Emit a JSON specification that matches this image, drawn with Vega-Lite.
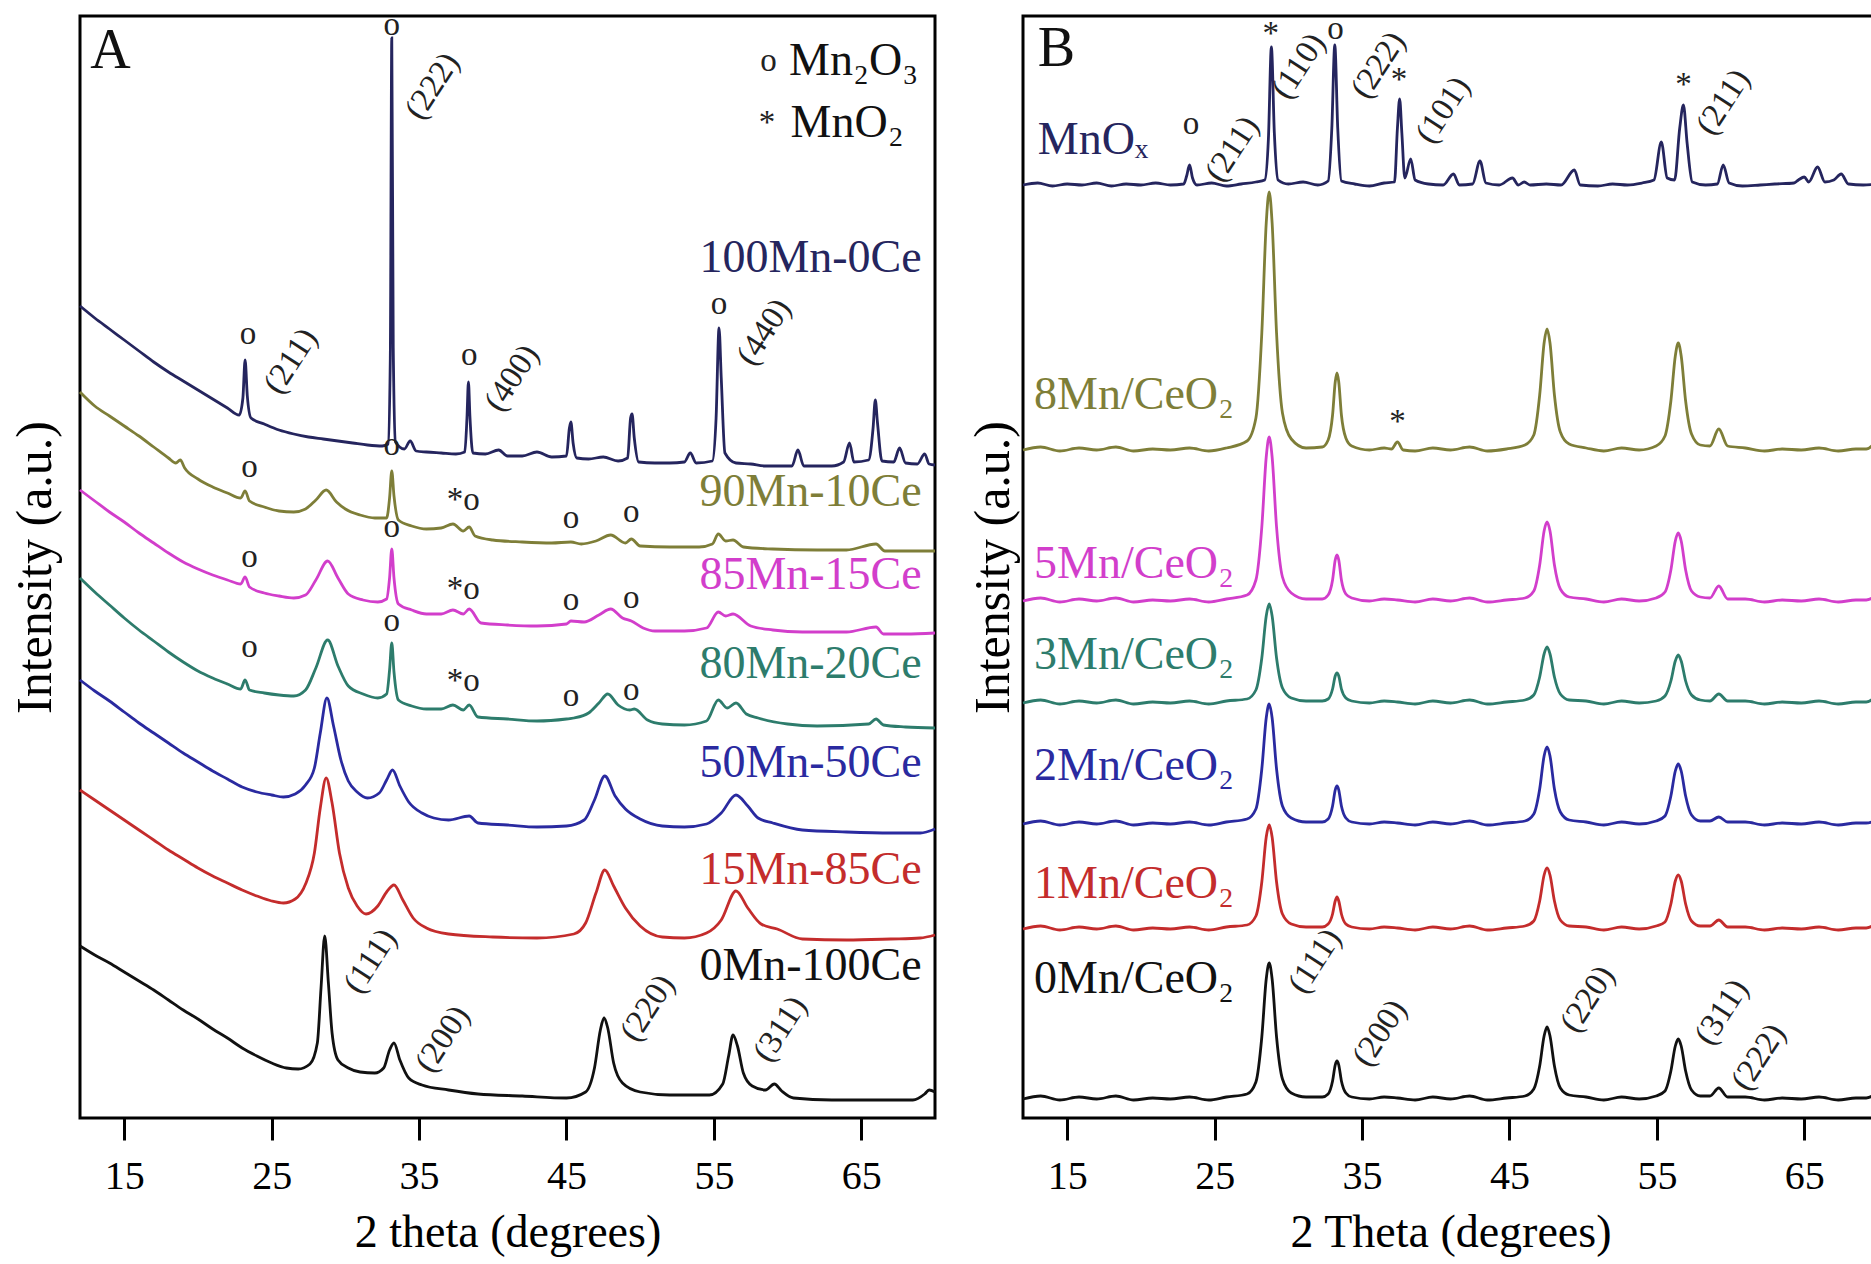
{
"$schema": "https://vega.github.io/schema/vega-lite/v6.json",
"padding": {"left": 8, "top": 7, "right": 0, "bottom": 0},
"spacing": 23,
"config": {"font": "Liberation Serif", "view": {"stroke": "black", "strokeWidth": 3}, "axis": {"labelFont": "Liberation Serif", "titleFont": "Liberation Serif", "labelColor": "black", "titleColor": "black", "titleFontWeight": "normal", "grid": false}},
"datasets": {
"A": [
{"s":"m100","x":12,"y":812},{"s":"m100","x":13,"y":800},{"s":"m100","x":14,"y":789},{"s":"m100","x":15,"y":778},{"s":"m100","x":16,"y":767},{"s":"m100","x":17,"y":756},{"s":"m100","x":18,"y":746},{"s":"m100","x":19,"y":737},{"s":"m100","x":20,"y":728},{"s":"m100","x":21,"y":719},{"s":"m100","x":22,"y":710},{"s":"m100","x":22.8,"y":703},{"s":"m100","x":23.05,"y":720},{"s":"m100","x":23.2,"y":758},{"s":"m100","x":23.35,"y":722},{"s":"m100","x":23.6,"y":700},{"s":"m100","x":24.5,"y":694},{"s":"m100","x":25.5,"y":688},{"s":"m100","x":26.5,"y":684},{"s":"m100","x":27.5,"y":681},{"s":"m100","x":28.5,"y":679},{"s":"m100","x":29.5,"y":677},{"s":"m100","x":30.5,"y":675},{"s":"m100","x":31.5,"y":673},{"s":"m100","x":32.5,"y":672},{"s":"m100","x":32.9,"y":674},{"s":"m100","x":33.05,"y":760},{"s":"m100","x":33.15,"y":1080},{"s":"m100","x":33.25,"y":770},{"s":"m100","x":33.4,"y":676},{"s":"m100","x":34.0,"y":669},{"s":"m100","x":34.4,"y":677},{"s":"m100","x":34.8,"y":667},{"s":"m100","x":35.5,"y":666},{"s":"m100","x":36.5,"y":665},{"s":"m100","x":37.5,"y":664},{"s":"m100","x":38.1,"y":666},{"s":"m100","x":38.25,"y":700},{"s":"m100","x":38.35,"y":736},{"s":"m100","x":38.45,"y":702},{"s":"m100","x":38.65,"y":665},{"s":"m100","x":39.5,"y":664},{"s":"m100","x":40.4,"y":668},{"s":"m100","x":41,"y":662},{"s":"m100","x":42,"y":662},{"s":"m100","x":43,"y":666},{"s":"m100","x":44,"y":661},{"s":"m100","x":45.0,"y":662},{"s":"m100","x":45.2,"y":690},{"s":"m100","x":45.3,"y":696},{"s":"m100","x":45.45,"y":675},{"s":"m100","x":45.7,"y":660},{"s":"m100","x":46.5,"y":659},{"s":"m100","x":47.5,"y":661},{"s":"m100","x":48.5,"y":657},{"s":"m100","x":49.15,"y":660},{"s":"m100","x":49.35,"y":700},{"s":"m100","x":49.45,"y":704},{"s":"m100","x":49.6,"y":680},{"s":"m100","x":49.9,"y":656},{"s":"m100","x":51,"y":655},{"s":"m100","x":52,"y":655},{"s":"m100","x":53,"y":656},{"s":"m100","x":53.4,"y":665},{"s":"m100","x":53.8,"y":655},{"s":"m100","x":54.9,"y":657},{"s":"m100","x":55.15,"y":700},{"s":"m100","x":55.35,"y":790},{"s":"m100","x":55.5,"y":740},{"s":"m100","x":55.75,"y":665},{"s":"m100","x":56.5,"y":655},{"s":"m100","x":57.5,"y":654},{"s":"m100","x":58.5,"y":652},{"s":"m100","x":59.5,"y":652},{"s":"m100","x":60.3,"y":652},{"s":"m100","x":60.7,"y":668},{"s":"m100","x":61.1,"y":652},{"s":"m100","x":62,"y":652},{"s":"m100","x":63,"y":652},{"s":"m100","x":63.8,"y":656},{"s":"m100","x":64.2,"y":675},{"s":"m100","x":64.5,"y":656},{"s":"m100","x":65.5,"y":658},{"s":"m100","x":65.8,"y":690},{"s":"m100","x":65.95,"y":718},{"s":"m100","x":66.1,"y":695},{"s":"m100","x":66.4,"y":657},{"s":"m100","x":67.2,"y":656},{"s":"m100","x":67.6,"y":670},{"s":"m100","x":68.0,"y":655},{"s":"m100","x":68.8,"y":654},{"s":"m100","x":69.3,"y":664},{"s":"m100","x":69.6,"y":654},{"s":"m100","x":70,"y":653},
{"s":"m90","x":12,"y":726},{"s":"m90","x":13,"y":712},{"s":"m90","x":14,"y":702},{"s":"m90","x":15,"y":692},{"s":"m90","x":16,"y":682},{"s":"m90","x":17,"y":671},{"s":"m90","x":18,"y":660},{"s":"m90","x":18.5,"y":655},{"s":"m90","x":18.8,"y":658},{"s":"m90","x":19.1,"y":650},{"s":"m90","x":20,"y":639},{"s":"m90","x":21,"y":631},{"s":"m90","x":22,"y":625},{"s":"m90","x":22.9,"y":620},{"s":"m90","x":23.2,"y":627},{"s":"m90","x":23.5,"y":617},{"s":"m90","x":24.5,"y":611},{"s":"m90","x":25.5,"y":607},{"s":"m90","x":26.5,"y":606},{"s":"m90","x":27.3,"y":609},{"s":"m90","x":28.0,"y":618},{"s":"m90","x":28.7,"y":628},{"s":"m90","x":29.4,"y":616},{"s":"m90","x":30,"y":609},{"s":"m90","x":31,"y":603},{"s":"m90","x":32,"y":600},{"s":"m90","x":32.8,"y":600},{"s":"m90","x":33.0,"y":620},{"s":"m90","x":33.15,"y":647},{"s":"m90","x":33.3,"y":622},{"s":"m90","x":33.6,"y":598},{"s":"m90","x":34.5,"y":592},{"s":"m90","x":35.5,"y":589},{"s":"m90","x":36.5,"y":590},{"s":"m90","x":37.3,"y":594},{"s":"m90","x":38.0,"y":587},{"s":"m90","x":38.4,"y":591},{"s":"m90","x":38.8,"y":582},{"s":"m90","x":40,"y":578},{"s":"m90","x":42,"y":576},{"s":"m90","x":44,"y":575},{"s":"m90","x":45.3,"y":576},{"s":"m90","x":46,"y":574},{"s":"m90","x":47,"y":577},{"s":"m90","x":48.0,"y":583},{"s":"m90","x":49.0,"y":575},{"s":"m90","x":49.4,"y":579},{"s":"m90","x":50,"y":572},{"s":"m90","x":52,"y":571},{"s":"m90","x":54,"y":571},{"s":"m90","x":54.9,"y":574},{"s":"m90","x":55.3,"y":584},{"s":"m90","x":55.8,"y":577},{"s":"m90","x":56.3,"y":578},{"s":"m90","x":57,"y":571},{"s":"m90","x":59,"y":569},{"s":"m90","x":62,"y":568},{"s":"m90","x":64,"y":568},{"s":"m90","x":66,"y":574},{"s":"m90","x":66.6,"y":567},{"s":"m90","x":70,"y":567},
{"s":"m85","x":12,"y":628},{"s":"m85","x":13,"y":617},{"s":"m85","x":14,"y":606},{"s":"m85","x":15,"y":596},{"s":"m85","x":16,"y":585},{"s":"m85","x":17,"y":575},{"s":"m85","x":18,"y":565},{"s":"m85","x":19,"y":556},{"s":"m85","x":20,"y":549},{"s":"m85","x":21,"y":543},{"s":"m85","x":22,"y":538},{"s":"m85","x":22.9,"y":534},{"s":"m85","x":23.2,"y":541},{"s":"m85","x":23.5,"y":531},{"s":"m85","x":24.5,"y":525},{"s":"m85","x":25.5,"y":522},{"s":"m85","x":26.5,"y":520},{"s":"m85","x":27.3,"y":523},{"s":"m85","x":28.0,"y":538},{"s":"m85","x":28.8,"y":557},{"s":"m85","x":29.5,"y":540},{"s":"m85","x":30.2,"y":524},{"s":"m85","x":31.2,"y":518},{"s":"m85","x":32.2,"y":516},{"s":"m85","x":32.8,"y":519},{"s":"m85","x":33.0,"y":540},{"s":"m85","x":33.15,"y":569},{"s":"m85","x":33.3,"y":540},{"s":"m85","x":33.6,"y":514},{"s":"m85","x":34.5,"y":508},{"s":"m85","x":35.5,"y":504},{"s":"m85","x":36.5,"y":504},{"s":"m85","x":37.3,"y":508},{"s":"m85","x":38.0,"y":504},{"s":"m85","x":38.4,"y":509},{"s":"m85","x":39.2,"y":495},{"s":"m85","x":41,"y":493},{"s":"m85","x":43,"y":492},{"s":"m85","x":45,"y":494},{"s":"m85","x":45.3,"y":497},{"s":"m85","x":46.2,"y":496},{"s":"m85","x":47.2,"y":503},{"s":"m85","x":48.0,"y":509},{"s":"m85","x":48.8,"y":500},{"s":"m85","x":49.4,"y":497},{"s":"m85","x":50.2,"y":490},{"s":"m85","x":51,"y":487},{"s":"m85","x":53,"y":487},{"s":"m85","x":54.5,"y":490},{"s":"m85","x":55.3,"y":506},{"s":"m85","x":55.8,"y":502},{"s":"m85","x":56.3,"y":504},{"s":"m85","x":57.5,"y":492},{"s":"m85","x":59,"y":488},{"s":"m85","x":61,"y":486},{"s":"m85","x":64,"y":486},{"s":"m85","x":66,"y":491},{"s":"m85","x":66.5,"y":484},{"s":"m85","x":68,"y":484},{"s":"m85","x":70,"y":485},
{"s":"m80","x":12,"y":540},{"s":"m80","x":13,"y":526},{"s":"m80","x":14,"y":513},{"s":"m80","x":15,"y":500},{"s":"m80","x":16,"y":488},{"s":"m80","x":17,"y":477},{"s":"m80","x":18,"y":466},{"s":"m80","x":19,"y":456},{"s":"m80","x":20,"y":447},{"s":"m80","x":21,"y":440},{"s":"m80","x":22,"y":434},{"s":"m80","x":22.9,"y":429},{"s":"m80","x":23.2,"y":438},{"s":"m80","x":23.5,"y":428},{"s":"m80","x":24.5,"y":425},{"s":"m80","x":25.5,"y":423},{"s":"m80","x":26.5,"y":422},{"s":"m80","x":27.3,"y":428},{"s":"m80","x":28.0,"y":450},{"s":"m80","x":28.8,"y":478},{"s":"m80","x":29.5,"y":452},{"s":"m80","x":30.2,"y":432},{"s":"m80","x":31.2,"y":424},{"s":"m80","x":32.2,"y":420},{"s":"m80","x":32.8,"y":424},{"s":"m80","x":33.0,"y":448},{"s":"m80","x":33.15,"y":475},{"s":"m80","x":33.3,"y":446},{"s":"m80","x":33.6,"y":418},{"s":"m80","x":34.5,"y":412},{"s":"m80","x":35.5,"y":409},{"s":"m80","x":36.5,"y":409},{"s":"m80","x":37.3,"y":413},{"s":"m80","x":38.0,"y":408},{"s":"m80","x":38.4,"y":413},{"s":"m80","x":39.0,"y":401},{"s":"m80","x":41,"y":399},{"s":"m80","x":43,"y":397},{"s":"m80","x":45,"y":399},{"s":"m80","x":45.5,"y":400},{"s":"m80","x":46.5,"y":405},{"s":"m80","x":47.2,"y":415},{"s":"m80","x":47.8,"y":424},{"s":"m80","x":48.5,"y":413},{"s":"m80","x":49.3,"y":408},{"s":"m80","x":49.6,"y":409},{"s":"m80","x":50.5,"y":398},{"s":"m80","x":51.5,"y":394},{"s":"m80","x":53,"y":393},{"s":"m80","x":54.5,"y":397},{"s":"m80","x":55.3,"y":418},{"s":"m80","x":55.9,"y":410},{"s":"m80","x":56.5,"y":415},{"s":"m80","x":57.2,"y":404},{"s":"m80","x":58,"y":400},{"s":"m80","x":60,"y":394},{"s":"m80","x":62,"y":392},{"s":"m80","x":65.5,"y":394},{"s":"m80","x":66,"y":399},{"s":"m80","x":66.5,"y":393},{"s":"m80","x":68,"y":391},{"s":"m80","x":70,"y":390},
{"s":"m50","x":12,"y":438},{"s":"m50","x":13,"y":427},{"s":"m50","x":14,"y":417},{"s":"m50","x":15,"y":406},{"s":"m50","x":16,"y":395},{"s":"m50","x":17,"y":385},{"s":"m50","x":18,"y":375},{"s":"m50","x":19,"y":365},{"s":"m50","x":20,"y":356},{"s":"m50","x":21,"y":347},{"s":"m50","x":22,"y":339},{"s":"m50","x":23,"y":331},{"s":"m50","x":24,"y":326},{"s":"m50","x":25,"y":323},{"s":"m50","x":25.8,"y":321},{"s":"m50","x":26.6,"y":324},{"s":"m50","x":27.3,"y":333},{"s":"m50","x":27.9,"y":350},{"s":"m50","x":28.3,"y":385},{"s":"m50","x":28.75,"y":420},{"s":"m50","x":29.2,"y":392},{"s":"m50","x":29.7,"y":358},{"s":"m50","x":30.2,"y":337},{"s":"m50","x":30.8,"y":326},{"s":"m50","x":31.5,"y":320},{"s":"m50","x":32.3,"y":325},{"s":"m50","x":32.8,"y":338},{"s":"m50","x":33.2,"y":348},{"s":"m50","x":33.7,"y":332},{"s":"m50","x":34.3,"y":316},{"s":"m50","x":35.2,"y":305},{"s":"m50","x":36,"y":300},{"s":"m50","x":37,"y":298},{"s":"m50","x":38.4,"y":302},{"s":"m50","x":39,"y":295},{"s":"m50","x":41,"y":293},{"s":"m50","x":43,"y":291},{"s":"m50","x":45,"y":292},{"s":"m50","x":46.2,"y":298},{"s":"m50","x":46.9,"y":318},{"s":"m50","x":47.6,"y":342},{"s":"m50","x":48.3,"y":322},{"s":"m50","x":49.0,"y":309},{"s":"m50","x":50,"y":299},{"s":"m50","x":51.5,"y":292},{"s":"m50","x":53,"y":291},{"s":"m50","x":54.5,"y":294},{"s":"m50","x":55.5,"y":305},{"s":"m50","x":56.5,"y":323},{"s":"m50","x":57.3,"y":312},{"s":"m50","x":58.0,"y":300},{"s":"m50","x":59,"y":295},{"s":"m50","x":61,"y":288},{"s":"m50","x":64,"y":286},{"s":"m50","x":67,"y":285},{"s":"m50","x":69,"y":285},{"s":"m50","x":70,"y":289},
{"s":"m15","x":12,"y":328},{"s":"m15","x":13,"y":318},{"s":"m15","x":14,"y":308},{"s":"m15","x":15,"y":298},{"s":"m15","x":16,"y":288},{"s":"m15","x":17,"y":278},{"s":"m15","x":18,"y":268},{"s":"m15","x":19,"y":259},{"s":"m15","x":20,"y":250},{"s":"m15","x":21,"y":242},{"s":"m15","x":22,"y":235},{"s":"m15","x":23,"y":228},{"s":"m15","x":24,"y":222},{"s":"m15","x":25,"y":217},{"s":"m15","x":25.8,"y":215},{"s":"m15","x":26.6,"y":219},{"s":"m15","x":27.3,"y":234},{"s":"m15","x":27.9,"y":265},{"s":"m15","x":28.3,"y":310},{"s":"m15","x":28.7,"y":340},{"s":"m15","x":29.1,"y":315},{"s":"m15","x":29.6,"y":265},{"s":"m15","x":30.2,"y":230},{"s":"m15","x":30.8,"y":212},{"s":"m15","x":31.4,"y":204},{"s":"m15","x":32.2,"y":212},{"s":"m15","x":32.8,"y":226},{"s":"m15","x":33.3,"y":233},{"s":"m15","x":33.9,"y":218},{"s":"m15","x":34.6,"y":200},{"s":"m15","x":35.5,"y":190},{"s":"m15","x":37,"y":184},{"s":"m15","x":40,"y":181},{"s":"m15","x":43,"y":180},{"s":"m15","x":45.5,"y":184},{"s":"m15","x":46.3,"y":195},{"s":"m15","x":47.0,"y":225},{"s":"m15","x":47.6,"y":248},{"s":"m15","x":48.2,"y":232},{"s":"m15","x":49.0,"y":210},{"s":"m15","x":50,"y":192},{"s":"m15","x":51.5,"y":181},{"s":"m15","x":53,"y":180},{"s":"m15","x":54.5,"y":185},{"s":"m15","x":55.5,"y":198},{"s":"m15","x":56.5,"y":227},{"s":"m15","x":57.3,"y":210},{"s":"m15","x":58.2,"y":194},{"s":"m15","x":59.3,"y":189},{"s":"m15","x":61,"y":179},{"s":"m15","x":64,"y":178},{"s":"m15","x":67,"y":179},{"s":"m15","x":69,"y":180},{"s":"m15","x":70,"y":183},
{"s":"m0","x":12,"y":172},{"s":"m0","x":13,"y":163},{"s":"m0","x":14,"y":155},{"s":"m0","x":15,"y":146},{"s":"m0","x":16,"y":137},{"s":"m0","x":17,"y":128},{"s":"m0","x":18,"y":118},{"s":"m0","x":19,"y":108},{"s":"m0","x":20,"y":99},{"s":"m0","x":21,"y":89},{"s":"m0","x":22,"y":80},{"s":"m0","x":23,"y":70},{"s":"m0","x":24,"y":62},{"s":"m0","x":25,"y":55},{"s":"m0","x":26,"y":50},{"s":"m0","x":26.8,"y":49},{"s":"m0","x":27.6,"y":54},{"s":"m0","x":28.1,"y":75},{"s":"m0","x":28.35,"y":130},{"s":"m0","x":28.6,"y":182},{"s":"m0","x":28.85,"y":135},{"s":"m0","x":29.1,"y":85},{"s":"m0","x":29.5,"y":58},{"s":"m0","x":30.2,"y":50},{"s":"m0","x":31.0,"y":46},{"s":"m0","x":32.0,"y":45},{"s":"m0","x":32.6,"y":50},{"s":"m0","x":33.0,"y":68},{"s":"m0","x":33.3,"y":75},{"s":"m0","x":33.7,"y":58},{"s":"m0","x":34.3,"y":40},{"s":"m0","x":35.2,"y":33},{"s":"m0","x":37,"y":28},{"s":"m0","x":39,"y":24},{"s":"m0","x":42,"y":22},{"s":"m0","x":45,"y":20},{"s":"m0","x":46.3,"y":26},{"s":"m0","x":46.9,"y":50},{"s":"m0","x":47.3,"y":88},{"s":"m0","x":47.55,"y":100},{"s":"m0","x":47.8,"y":90},{"s":"m0","x":48.2,"y":55},{"s":"m0","x":48.8,"y":35},{"s":"m0","x":50,"y":26},{"s":"m0","x":52,"y":23},{"s":"m0","x":54.7,"y":23},{"s":"m0","x":55.6,"y":34},{"s":"m0","x":56.0,"y":62},{"s":"m0","x":56.3,"y":83},{"s":"m0","x":56.6,"y":72},{"s":"m0","x":57.0,"y":45},{"s":"m0","x":57.6,"y":32},{"s":"m0","x":58.5,"y":28},{"s":"m0","x":59.1,"y":34},{"s":"m0","x":59.6,"y":27},{"s":"m0","x":60.4,"y":20},{"s":"m0","x":63,"y":18},{"s":"m0","x":66,"y":18},{"s":"m0","x":68.5,"y":18},{"s":"m0","x":69.3,"y":24},{"s":"m0","x":69.6,"y":28},{"s":"m0","x":70,"y":26}
],
"B": [
{"s":"x","x":12,"y":933},{"s":"x","x":13,"y":935},{"s":"x","x":14,"y":932},{"s":"x","x":15,"y":934},{"s":"x","x":16,"y":933},{"s":"x","x":17,"y":935},{"s":"x","x":18,"y":932},{"s":"x","x":19,"y":934},{"s":"x","x":20,"y":933},{"s":"x","x":21,"y":935},{"s":"x","x":22,"y":933},{"s":"x","x":22.9,"y":934},{"s":"x","x":23.1,"y":942},{"s":"x","x":23.3,"y":953},{"s":"x","x":23.5,"y":940},{"s":"x","x":23.8,"y":933},{"s":"x","x":24.8,"y":935},{"s":"x","x":25.8,"y":932},{"s":"x","x":26.8,"y":934},{"s":"x","x":27.8,"y":936},{"s":"x","x":28.4,"y":938},{"s":"x","x":28.65,"y":980},{"s":"x","x":28.85,"y":1071},{"s":"x","x":29.05,"y":985},{"s":"x","x":29.3,"y":938},{"s":"x","x":30,"y":934},{"s":"x","x":31,"y":936},{"s":"x","x":32,"y":933},{"s":"x","x":32.7,"y":937},{"s":"x","x":32.95,"y":990},{"s":"x","x":33.15,"y":1073},{"s":"x","x":33.35,"y":990},{"s":"x","x":33.6,"y":937},{"s":"x","x":34.5,"y":934},{"s":"x","x":35.5,"y":932},{"s":"x","x":36.5,"y":935},{"s":"x","x":37.2,"y":936},{"s":"x","x":37.4,"y":990},{"s":"x","x":37.55,"y":1019},{"s":"x","x":37.7,"y":985},{"s":"x","x":37.9,"y":940},{"s":"x","x":38.3,"y":959},{"s":"x","x":38.6,"y":938},{"s":"x","x":39.5,"y":934},{"s":"x","x":40.5,"y":933},{"s":"x","x":41.2,"y":944},{"s":"x","x":41.6,"y":933},{"s":"x","x":42.5,"y":934},{"s":"x","x":43.0,"y":957},{"s":"x","x":43.4,"y":935},{"s":"x","x":44.3,"y":933},{"s":"x","x":45.2,"y":940},{"s":"x","x":45.6,"y":933},{"s":"x","x":46.0,"y":936},{"s":"x","x":46.4,"y":933},{"s":"x","x":47.5,"y":934},{"s":"x","x":48.5,"y":933},{"s":"x","x":49.4,"y":948},{"s":"x","x":49.8,"y":933},{"s":"x","x":51,"y":932},{"s":"x","x":52,"y":934},{"s":"x","x":53,"y":933},{"s":"x","x":54,"y":935},{"s":"x","x":54.8,"y":938},{"s":"x","x":55.3,"y":976},{"s":"x","x":55.7,"y":940},{"s":"x","x":56.2,"y":938},{"s":"x","x":56.55,"y":990},{"s":"x","x":56.8,"y":1013},{"s":"x","x":57.05,"y":975},{"s":"x","x":57.4,"y":936},{"s":"x","x":58.3,"y":933},{"s":"x","x":59.1,"y":934},{"s":"x","x":59.5,"y":953},{"s":"x","x":59.9,"y":935},{"s":"x","x":60.8,"y":932},{"s":"x","x":62,"y":933},{"s":"x","x":63,"y":934},{"s":"x","x":64.3,"y":935},{"s":"x","x":64.6,"y":938},{"s":"x","x":65.0,"y":941},{"s":"x","x":65.3,"y":936},{"s":"x","x":65.9,"y":951},{"s":"x","x":66.4,"y":936},{"s":"x","x":67.0,"y":938},{"s":"x","x":67.5,"y":944},{"s":"x","x":68.0,"y":934},{"s":"x","x":69,"y":933},{"s":"x","x":70,"y":934},
{"s":"b8","x":12,"y":668},{"s":"b8","x":13.2,"y":671},{"s":"b8","x":14.5,"y":667},{"s":"b8","x":15.8,"y":670},{"s":"b8","x":17,"y":668},{"s":"b8","x":18.3,"y":671},{"s":"b8","x":19.5,"y":667},{"s":"b8","x":20.8,"y":669},{"s":"b8","x":22,"y":668},{"s":"b8","x":23.3,"y":670},{"s":"b8","x":24.6,"y":667},{"s":"b8","x":25.8,"y":670},{"s":"b8","x":27.2,"y":677},{"s":"b8","x":27.8,"y":700},{"s":"b8","x":28.2,"y":785},{"s":"b8","x":28.5,"y":895},{"s":"b8","x":28.7,"y":926},{"s":"b8","x":28.9,"y":895},{"s":"b8","x":29.2,"y":785},{"s":"b8","x":29.6,"y":705},{"s":"b8","x":30.2,"y":679},{"s":"b8","x":31.2,"y":670},{"s":"b8","x":32.3,"y":671},{"s":"b8","x":32.7,"y":678},{"s":"b8","x":33.0,"y":703},{"s":"b8","x":33.18,"y":736},{"s":"b8","x":33.3,"y":745},{"s":"b8","x":33.42,"y":736},{"s":"b8","x":33.6,"y":703},{"s":"b8","x":33.9,"y":680},{"s":"b8","x":34.3,"y":672},{"s":"b8","x":35.5,"y":668},{"s":"b8","x":36.5,"y":670},{"s":"b8","x":37.0,"y":669},{"s":"b8","x":37.4,"y":676},{"s":"b8","x":37.8,"y":668},{"s":"b8","x":38.6,"y":667},{"s":"b8","x":39.8,"y":670},{"s":"b8","x":41,"y":668},{"s":"b8","x":42.3,"y":671},{"s":"b8","x":43.5,"y":667},{"s":"b8","x":44.8,"y":669},{"s":"b8","x":46.05,"y":673},{"s":"b8","x":46.65,"y":683},{"s":"b8","x":47.05,"y":723},{"s":"b8","x":47.35,"y":775},{"s":"b8","x":47.55,"y":789},{"s":"b8","x":47.75,"y":775},{"s":"b8","x":48.05,"y":723},{"s":"b8","x":48.45,"y":686},{"s":"b8","x":49.05,"y":674},{"s":"b8","x":50.2,"y":670},{"s":"b8","x":51.4,"y":667},{"s":"b8","x":52.6,"y":670},{"s":"b8","x":53.8,"y":668},{"s":"b8","x":54.95,"y":672},{"s":"b8","x":55.55,"y":682},{"s":"b8","x":55.95,"y":717},{"s":"b8","x":56.25,"y":762},{"s":"b8","x":56.45,"y":775},{"s":"b8","x":56.65,"y":762},{"s":"b8","x":56.95,"y":717},{"s":"b8","x":57.35,"y":684},{"s":"b8","x":57.95,"y":673},{"s":"b8","x":58.6,"y":672},{"s":"b8","x":59.2,"y":689},{"s":"b8","x":59.8,"y":672},{"s":"b8","x":61,"y":670},{"s":"b8","x":62.3,"y":667},{"s":"b8","x":63.5,"y":669},{"s":"b8","x":64.8,"y":668},{"s":"b8","x":66,"y":670},{"s":"b8","x":67.3,"y":667},{"s":"b8","x":68.5,"y":669},{"s":"b8","x":69.2,"y":669},{"s":"b8","x":69.7,"y":674},{"s":"b8","x":70,"y":681},
{"s":"b5","x":12,"y":517},{"s":"b5","x":13.2,"y":520},{"s":"b5","x":14.5,"y":516},{"s":"b5","x":15.8,"y":519},{"s":"b5","x":17,"y":517},{"s":"b5","x":18.3,"y":520},{"s":"b5","x":19.5,"y":516},{"s":"b5","x":20.8,"y":518},{"s":"b5","x":22,"y":517},{"s":"b5","x":23.3,"y":519},{"s":"b5","x":24.6,"y":516},{"s":"b5","x":25.8,"y":519},{"s":"b5","x":27.2,"y":523},{"s":"b5","x":27.8,"y":538},{"s":"b5","x":28.2,"y":591},{"s":"b5","x":28.5,"y":661},{"s":"b5","x":28.7,"y":681},{"s":"b5","x":28.9,"y":661},{"s":"b5","x":29.2,"y":591},{"s":"b5","x":29.6,"y":541},{"s":"b5","x":30.2,"y":525},{"s":"b5","x":31.2,"y":519},{"s":"b5","x":32.3,"y":519},{"s":"b5","x":32.7,"y":523},{"s":"b5","x":33.0,"y":538},{"s":"b5","x":33.18,"y":558},{"s":"b5","x":33.3,"y":563},{"s":"b5","x":33.42,"y":558},{"s":"b5","x":33.6,"y":538},{"s":"b5","x":33.9,"y":524},{"s":"b5","x":34.3,"y":520},{"s":"b5","x":35.5,"y":517},{"s":"b5","x":36.5,"y":519},{"s":"b5","x":37.4,"y":518},{"s":"b5","x":38.6,"y":516},{"s":"b5","x":39.8,"y":519},{"s":"b5","x":41,"y":517},{"s":"b5","x":42.3,"y":520},{"s":"b5","x":43.5,"y":516},{"s":"b5","x":44.8,"y":518},{"s":"b5","x":46.05,"y":520},{"s":"b5","x":46.65,"y":527},{"s":"b5","x":47.05,"y":553},{"s":"b5","x":47.35,"y":587},{"s":"b5","x":47.55,"y":596},{"s":"b5","x":47.75,"y":587},{"s":"b5","x":48.05,"y":553},{"s":"b5","x":48.45,"y":529},{"s":"b5","x":49.05,"y":521},{"s":"b5","x":50.2,"y":519},{"s":"b5","x":51.4,"y":516},{"s":"b5","x":52.6,"y":519},{"s":"b5","x":53.8,"y":517},{"s":"b5","x":54.95,"y":520},{"s":"b5","x":55.55,"y":526},{"s":"b5","x":55.95,"y":548},{"s":"b5","x":56.25,"y":577},{"s":"b5","x":56.45,"y":585},{"s":"b5","x":56.65,"y":577},{"s":"b5","x":56.95,"y":548},{"s":"b5","x":57.35,"y":527},{"s":"b5","x":57.95,"y":521},{"s":"b5","x":58.6,"y":520},{"s":"b5","x":59.2,"y":532},{"s":"b5","x":59.8,"y":519},{"s":"b5","x":61,"y":519},{"s":"b5","x":62.3,"y":516},{"s":"b5","x":63.5,"y":518},{"s":"b5","x":64.8,"y":517},{"s":"b5","x":66,"y":519},{"s":"b5","x":67.3,"y":516},{"s":"b5","x":68.5,"y":518},{"s":"b5","x":69.2,"y":518},{"s":"b5","x":69.7,"y":521},{"s":"b5","x":70,"y":526},
{"s":"b3","x":12,"y":415},{"s":"b3","x":13.2,"y":418},{"s":"b3","x":14.5,"y":414},{"s":"b3","x":15.8,"y":417},{"s":"b3","x":17,"y":415},{"s":"b3","x":18.3,"y":418},{"s":"b3","x":19.5,"y":414},{"s":"b3","x":20.8,"y":416},{"s":"b3","x":22,"y":415},{"s":"b3","x":23.3,"y":417},{"s":"b3","x":24.6,"y":414},{"s":"b3","x":25.8,"y":417},{"s":"b3","x":27.2,"y":419},{"s":"b3","x":27.8,"y":428},{"s":"b3","x":28.2,"y":460},{"s":"b3","x":28.5,"y":502},{"s":"b3","x":28.7,"y":514},{"s":"b3","x":28.9,"y":502},{"s":"b3","x":29.2,"y":460},{"s":"b3","x":29.6,"y":430},{"s":"b3","x":30.2,"y":420},{"s":"b3","x":31.2,"y":417},{"s":"b3","x":32.3,"y":417},{"s":"b3","x":32.7,"y":419},{"s":"b3","x":33.0,"y":429},{"s":"b3","x":33.18,"y":442},{"s":"b3","x":33.3,"y":445},{"s":"b3","x":33.42,"y":442},{"s":"b3","x":33.6,"y":429},{"s":"b3","x":33.9,"y":420},{"s":"b3","x":34.3,"y":417},{"s":"b3","x":35.5,"y":415},{"s":"b3","x":36.5,"y":417},{"s":"b3","x":37.4,"y":416},{"s":"b3","x":38.6,"y":414},{"s":"b3","x":39.8,"y":417},{"s":"b3","x":41,"y":415},{"s":"b3","x":42.3,"y":418},{"s":"b3","x":43.5,"y":414},{"s":"b3","x":44.8,"y":416},{"s":"b3","x":46.05,"y":418},{"s":"b3","x":46.65,"y":423},{"s":"b3","x":47.05,"y":441},{"s":"b3","x":47.35,"y":464},{"s":"b3","x":47.55,"y":471},{"s":"b3","x":47.75,"y":464},{"s":"b3","x":48.05,"y":441},{"s":"b3","x":48.45,"y":424},{"s":"b3","x":49.05,"y":418},{"s":"b3","x":50.2,"y":417},{"s":"b3","x":51.4,"y":414},{"s":"b3","x":52.6,"y":417},{"s":"b3","x":53.8,"y":415},{"s":"b3","x":54.95,"y":417},{"s":"b3","x":55.55,"y":422},{"s":"b3","x":55.95,"y":437},{"s":"b3","x":56.25,"y":457},{"s":"b3","x":56.45,"y":463},{"s":"b3","x":56.65,"y":457},{"s":"b3","x":56.95,"y":437},{"s":"b3","x":57.35,"y":423},{"s":"b3","x":57.95,"y":418},{"s":"b3","x":58.6,"y":417},{"s":"b3","x":59.2,"y":424},{"s":"b3","x":59.8,"y":417},{"s":"b3","x":61,"y":417},{"s":"b3","x":62.3,"y":414},{"s":"b3","x":63.5,"y":416},{"s":"b3","x":64.8,"y":415},{"s":"b3","x":66,"y":417},{"s":"b3","x":67.3,"y":414},{"s":"b3","x":68.5,"y":416},{"s":"b3","x":69.2,"y":416},{"s":"b3","x":69.7,"y":420},{"s":"b3","x":70,"y":426},
{"s":"b2","x":12,"y":294},{"s":"b2","x":13.2,"y":297},{"s":"b2","x":14.5,"y":293},{"s":"b2","x":15.8,"y":296},{"s":"b2","x":17,"y":294},{"s":"b2","x":18.3,"y":297},{"s":"b2","x":19.5,"y":293},{"s":"b2","x":20.8,"y":295},{"s":"b2","x":22,"y":294},{"s":"b2","x":23.3,"y":296},{"s":"b2","x":24.6,"y":293},{"s":"b2","x":25.8,"y":296},{"s":"b2","x":27.2,"y":299},{"s":"b2","x":27.8,"y":309},{"s":"b2","x":28.2,"y":349},{"s":"b2","x":28.5,"y":400},{"s":"b2","x":28.7,"y":414},{"s":"b2","x":28.9,"y":400},{"s":"b2","x":29.2,"y":349},{"s":"b2","x":29.6,"y":312},{"s":"b2","x":30.2,"y":300},{"s":"b2","x":31.2,"y":296},{"s":"b2","x":32.3,"y":296},{"s":"b2","x":32.7,"y":299},{"s":"b2","x":33.0,"y":312},{"s":"b2","x":33.18,"y":328},{"s":"b2","x":33.3,"y":332},{"s":"b2","x":33.42,"y":328},{"s":"b2","x":33.6,"y":312},{"s":"b2","x":33.9,"y":300},{"s":"b2","x":34.3,"y":296},{"s":"b2","x":35.5,"y":294},{"s":"b2","x":36.5,"y":296},{"s":"b2","x":37.4,"y":295},{"s":"b2","x":38.6,"y":293},{"s":"b2","x":39.8,"y":296},{"s":"b2","x":41,"y":294},{"s":"b2","x":42.3,"y":297},{"s":"b2","x":43.5,"y":293},{"s":"b2","x":44.8,"y":295},{"s":"b2","x":46.05,"y":297},{"s":"b2","x":46.65,"y":304},{"s":"b2","x":47.05,"y":329},{"s":"b2","x":47.35,"y":362},{"s":"b2","x":47.55,"y":371},{"s":"b2","x":47.75,"y":362},{"s":"b2","x":48.05,"y":329},{"s":"b2","x":48.45,"y":306},{"s":"b2","x":49.05,"y":298},{"s":"b2","x":50.2,"y":296},{"s":"b2","x":51.4,"y":293},{"s":"b2","x":52.6,"y":296},{"s":"b2","x":53.8,"y":294},{"s":"b2","x":54.95,"y":297},{"s":"b2","x":55.55,"y":302},{"s":"b2","x":55.95,"y":322},{"s":"b2","x":56.25,"y":347},{"s":"b2","x":56.45,"y":354},{"s":"b2","x":56.65,"y":347},{"s":"b2","x":56.95,"y":322},{"s":"b2","x":57.35,"y":303},{"s":"b2","x":57.95,"y":297},{"s":"b2","x":58.6,"y":297},{"s":"b2","x":59.2,"y":301},{"s":"b2","x":59.8,"y":296},{"s":"b2","x":61,"y":296},{"s":"b2","x":62.3,"y":293},{"s":"b2","x":63.5,"y":295},{"s":"b2","x":64.8,"y":294},{"s":"b2","x":66,"y":296},{"s":"b2","x":67.3,"y":293},{"s":"b2","x":68.5,"y":295},{"s":"b2","x":69.2,"y":295},{"s":"b2","x":69.7,"y":297},{"s":"b2","x":70,"y":301},
{"s":"b1","x":12,"y":189},{"s":"b1","x":13.2,"y":192},{"s":"b1","x":14.5,"y":188},{"s":"b1","x":15.8,"y":191},{"s":"b1","x":17,"y":189},{"s":"b1","x":18.3,"y":192},{"s":"b1","x":19.5,"y":188},{"s":"b1","x":20.8,"y":190},{"s":"b1","x":22,"y":189},{"s":"b1","x":23.3,"y":191},{"s":"b1","x":24.6,"y":188},{"s":"b1","x":25.8,"y":191},{"s":"b1","x":27.2,"y":193},{"s":"b1","x":27.8,"y":202},{"s":"b1","x":28.2,"y":236},{"s":"b1","x":28.5,"y":281},{"s":"b1","x":28.7,"y":293},{"s":"b1","x":28.9,"y":281},{"s":"b1","x":29.2,"y":236},{"s":"b1","x":29.6,"y":204},{"s":"b1","x":30.2,"y":194},{"s":"b1","x":31.2,"y":191},{"s":"b1","x":32.3,"y":191},{"s":"b1","x":32.7,"y":194},{"s":"b1","x":33.0,"y":204},{"s":"b1","x":33.18,"y":217},{"s":"b1","x":33.3,"y":221},{"s":"b1","x":33.42,"y":217},{"s":"b1","x":33.6,"y":204},{"s":"b1","x":33.9,"y":194},{"s":"b1","x":34.3,"y":191},{"s":"b1","x":35.5,"y":189},{"s":"b1","x":36.5,"y":191},{"s":"b1","x":37.4,"y":190},{"s":"b1","x":38.6,"y":188},{"s":"b1","x":39.8,"y":191},{"s":"b1","x":41,"y":189},{"s":"b1","x":42.3,"y":192},{"s":"b1","x":43.5,"y":188},{"s":"b1","x":44.8,"y":190},{"s":"b1","x":46.05,"y":192},{"s":"b1","x":46.65,"y":197},{"s":"b1","x":47.05,"y":217},{"s":"b1","x":47.35,"y":243},{"s":"b1","x":47.55,"y":250},{"s":"b1","x":47.75,"y":243},{"s":"b1","x":48.05,"y":217},{"s":"b1","x":48.45,"y":198},{"s":"b1","x":49.05,"y":192},{"s":"b1","x":50.2,"y":191},{"s":"b1","x":51.4,"y":188},{"s":"b1","x":52.6,"y":191},{"s":"b1","x":53.8,"y":189},{"s":"b1","x":54.95,"y":192},{"s":"b1","x":55.55,"y":196},{"s":"b1","x":55.95,"y":214},{"s":"b1","x":56.25,"y":237},{"s":"b1","x":56.45,"y":243},{"s":"b1","x":56.65,"y":237},{"s":"b1","x":56.95,"y":214},{"s":"b1","x":57.35,"y":197},{"s":"b1","x":57.95,"y":192},{"s":"b1","x":58.6,"y":192},{"s":"b1","x":59.2,"y":198},{"s":"b1","x":59.8,"y":191},{"s":"b1","x":61,"y":191},{"s":"b1","x":62.3,"y":188},{"s":"b1","x":63.5,"y":190},{"s":"b1","x":64.8,"y":189},{"s":"b1","x":66,"y":191},{"s":"b1","x":67.3,"y":188},{"s":"b1","x":68.5,"y":190},{"s":"b1","x":69.2,"y":190},{"s":"b1","x":69.7,"y":193},{"s":"b1","x":70,"y":198},
{"s":"b0","x":12,"y":19},{"s":"b0","x":13.2,"y":22},{"s":"b0","x":14.5,"y":18},{"s":"b0","x":15.8,"y":21},{"s":"b0","x":17,"y":19},{"s":"b0","x":18.3,"y":22},{"s":"b0","x":19.5,"y":18},{"s":"b0","x":20.8,"y":20},{"s":"b0","x":22,"y":19},{"s":"b0","x":23.3,"y":21},{"s":"b0","x":24.6,"y":18},{"s":"b0","x":25.8,"y":21},{"s":"b0","x":27.2,"y":24},{"s":"b0","x":27.8,"y":36},{"s":"b0","x":28.2,"y":81},{"s":"b0","x":28.5,"y":139},{"s":"b0","x":28.7,"y":155},{"s":"b0","x":28.9,"y":139},{"s":"b0","x":29.2,"y":81},{"s":"b0","x":29.6,"y":39},{"s":"b0","x":30.2,"y":25},{"s":"b0","x":31.2,"y":21},{"s":"b0","x":32.3,"y":21},{"s":"b0","x":32.7,"y":24},{"s":"b0","x":33.0,"y":37},{"s":"b0","x":33.18,"y":53},{"s":"b0","x":33.3,"y":57},{"s":"b0","x":33.42,"y":53},{"s":"b0","x":33.6,"y":37},{"s":"b0","x":33.9,"y":25},{"s":"b0","x":34.3,"y":21},{"s":"b0","x":35.5,"y":19},{"s":"b0","x":36.5,"y":21},{"s":"b0","x":37.4,"y":20},{"s":"b0","x":38.6,"y":18},{"s":"b0","x":39.8,"y":21},{"s":"b0","x":41,"y":19},{"s":"b0","x":42.3,"y":22},{"s":"b0","x":43.5,"y":18},{"s":"b0","x":44.8,"y":20},{"s":"b0","x":46.05,"y":22},{"s":"b0","x":46.65,"y":29},{"s":"b0","x":47.05,"y":52},{"s":"b0","x":47.35,"y":82},{"s":"b0","x":47.55,"y":91},{"s":"b0","x":47.75,"y":82},{"s":"b0","x":48.05,"y":52},{"s":"b0","x":48.45,"y":30},{"s":"b0","x":49.05,"y":23},{"s":"b0","x":50.2,"y":21},{"s":"b0","x":51.4,"y":18},{"s":"b0","x":52.6,"y":21},{"s":"b0","x":53.8,"y":19},{"s":"b0","x":54.95,"y":22},{"s":"b0","x":55.55,"y":27},{"s":"b0","x":55.95,"y":47},{"s":"b0","x":56.25,"y":72},{"s":"b0","x":56.45,"y":79},{"s":"b0","x":56.65,"y":72},{"s":"b0","x":56.95,"y":47},{"s":"b0","x":57.35,"y":28},{"s":"b0","x":57.95,"y":22},{"s":"b0","x":58.6,"y":22},{"s":"b0","x":59.2,"y":30},{"s":"b0","x":59.8,"y":21},{"s":"b0","x":61,"y":21},{"s":"b0","x":62.3,"y":18},{"s":"b0","x":63.5,"y":20},{"s":"b0","x":64.8,"y":19},{"s":"b0","x":66,"y":21},{"s":"b0","x":67.3,"y":18},{"s":"b0","x":68.5,"y":20},{"s":"b0","x":69.2,"y":20},{"s":"b0","x":69.7,"y":23},{"s":"b0","x":70,"y":28}
],
"labA": [
{"s":"m100","t":"100Mn-0Ce","x":69.1,"y":860},{"s":"m90","t":"90Mn-10Ce","x":69.1,"y":626},{"s":"m85","t":"85Mn-15Ce","x":69.1,"y":543},{"s":"m80","t":"80Mn-20Ce","x":69.1,"y":454},{"s":"m50","t":"50Mn-50Ce","x":69.1,"y":355},{"s":"m15","t":"15Mn-85Ce","x":69.1,"y":248},{"s":"m0","t":"0Mn-100Ce","x":69.1,"y":152}
],
"labB": [
{"s":"x","t":"MnOₓ","x":13.0,"y":978},{"s":"b8","t":"8Mn/CeO₂","x":12.75,"y":723},{"s":"b5","t":"5Mn/CeO₂","x":12.75,"y":554},{"s":"b3","t":"3Mn/CeO₂","x":12.75,"y":463},{"s":"b2","t":"2Mn/CeO₂","x":12.75,"y":352},{"s":"b1","t":"1Mn/CeO₂","x":12.75,"y":234},{"s":"b0","t":"0Mn/CeO₂","x":12.75,"y":139}
],
"hklA": [
{"t":"(211)","x":26.3,"y":757},{"t":"(222)","x":35.9,"y":1032},{"t":"(400)","x":41.3,"y":740},{"t":"(440)","x":58.4,"y":786},{"t":"(111)","x":31.7,"y":157},{"t":"(200)","x":36.6,"y":79},{"t":"(220)","x":50.5,"y":110},{"t":"(311)","x":59.5,"y":89}
],
"hklB": [
{"t":"(211)","x":26.2,"y":969},{"t":"(110)","x":30.7,"y":1052},{"t":"(222)","x":36.1,"y":1053},{"t":"(101)","x":40.5,"y":1008},{"t":"(211)","x":59.5,"y":1016},{"t":"(111)","x":31.8,"y":157},{"t":"(200)","x":36.2,"y":85},{"t":"(220)","x":50.3,"y":119},{"t":"(311)","x":59.4,"y":106},{"t":"(222)","x":61.9,"y":61}
],
"symA": [
{"t":"o","x":23.4,"y":784},{"t":"o","x":33.15,"y":1093},{"t":"o","x":38.4,"y":763},{"t":"o","x":55.35,"y":814},
{"t":"o","x":23.5,"y":651},{"t":"o","x":33.15,"y":673},{"t":"*o","x":38.0,"y":618},{"t":"o","x":45.3,"y":600},{"t":"o","x":49.4,"y":606},
{"t":"o","x":23.5,"y":561},{"t":"o","x":33.15,"y":591},{"t":"*o","x":38.0,"y":529},{"t":"o","x":45.3,"y":518},{"t":"o","x":49.4,"y":520},
{"t":"o","x":23.5,"y":471},{"t":"o","x":33.15,"y":497},{"t":"*o","x":38.0,"y":437},{"t":"o","x":45.3,"y":422},{"t":"o","x":49.4,"y":428},
{"t":"o","x":58.7,"y":1057},{"t":"*","x":58.6,"y":995}
],
"symB": [
{"t":"o","x":23.4,"y":994},{"t":"*","x":28.8,"y":1084},{"t":"o","x":33.2,"y":1089},{"t":"*","x":37.5,"y":1038},{"t":"*","x":56.8,"y":1033},{"t":"*","x":37.4,"y":696}
],
"legA": [
{"t":"Mn₂O₃","x":60.1,"y":1057},{"t":"MnO₂","x":60.2,"y":995}
],
"bigA": [{"t":"A","x":12.7,"y":1067}],
"bigB": [{"t":"B","x":13.0,"y":1069}]
},
"hconcat": [
{
"width": 855, "height": 1102,
"encoding": {
"x": {"field": "x", "type": "quantitative", "scale": {"domain": [12, 70], "nice": false, "zero": false},
 "axis": {"title": "2 theta (degrees)", "values": [15, 25, 35, 45, 55, 65], "domain": false, "tickSize": 22, "tickWidth": 3, "tickColor": "black", "labelFontSize": 40, "labelPadding": 16, "titleFontSize": 46, "titlePadding": 14}},
"y": {"field": "y", "type": "quantitative", "scale": {"domain": [0, 1102], "nice": false, "zero": false},
 "axis": {"title": "Intensity (a.u.)", "labels": false, "ticks": false, "domain": false, "titleFontSize": 50, "titlePadding": 20}}
},
"layer": [
{"data": {"name": "A"}, "mark": {"type": "line", "strokeWidth": 2.8, "interpolate": "monotone"},
 "encoding": {"color": {"field": "s", "type": "nominal", "legend": null, "scale": {"domain": ["m100","m90","m85","m80","m50","m15","m0","x","b8","b5","b3","b2","b1","b0"], "range": ["#25255e","#7e7e38","#d23ecb","#2d7c6c","#2a2aa0","#c42c2c","#111111","#25255e","#7e7e38","#d23ecb","#2d7c6c","#2a2aa0","#c42c2c","#111111"]}}, "detail": {"field": "s"}}},
{"data": {"name": "labA"}, "mark": {"type": "text", "fontSize": 46, "align": "right", "baseline": "middle"},
 "encoding": {"text": {"field": "t"}, "color": {"field": "s", "type": "nominal", "legend": null}}},
{"data": {"name": "hklA"}, "mark": {"type": "text", "fontSize": 33, "align": "center", "baseline": "middle", "angle": -57, "color": "#222222"},
 "encoding": {"text": {"field": "t"}}},
{"data": {"name": "symA"}, "mark": {"type": "text", "fontSize": 33, "align": "center", "baseline": "middle", "color": "#222222"},
 "encoding": {"text": {"field": "t"}}},
{"data": {"name": "legA"}, "mark": {"type": "text", "fontSize": 46, "align": "left", "baseline": "middle", "color": "#111111"},
 "encoding": {"text": {"field": "t"}}},
{"data": {"name": "bigA"}, "mark": {"type": "text", "fontSize": 56, "align": "left", "baseline": "middle", "color": "#111111"},
 "encoding": {"text": {"field": "t"}}}
]
},
{
"width": 855, "height": 1102,
"encoding": {
"x": {"field": "x", "type": "quantitative", "scale": {"domain": [12, 70], "nice": false, "zero": false},
 "axis": {"title": "2 Theta (degrees)", "values": [15, 25, 35, 45, 55, 65], "domain": false, "tickSize": 22, "tickWidth": 3, "tickColor": "black", "labelFontSize": 40, "labelPadding": 16, "titleFontSize": 46, "titlePadding": 14}},
"y": {"field": "y", "type": "quantitative", "scale": {"domain": [0, 1102], "nice": false, "zero": false},
 "axis": {"title": "Intensity (a.u.)", "labels": false, "ticks": false, "domain": false, "titleFontSize": 50, "titlePadding": 5}}
},
"layer": [
{"data": {"name": "B"}, "mark": {"type": "line", "strokeWidth": 2.8, "interpolate": "monotone"},
 "encoding": {"color": {"field": "s", "type": "nominal", "legend": null, "scale": {"domain": ["m100","m90","m85","m80","m50","m15","m0","x","b8","b5","b3","b2","b1","b0"], "range": ["#25255e","#7e7e38","#d23ecb","#2d7c6c","#2a2aa0","#c42c2c","#111111","#25255e","#7e7e38","#d23ecb","#2d7c6c","#2a2aa0","#c42c2c","#111111"]}}, "detail": {"field": "s"}}},
{"data": {"name": "labB"}, "mark": {"type": "text", "fontSize": 46, "align": "left", "baseline": "middle"},
 "encoding": {"text": {"field": "t"}, "color": {"field": "s", "type": "nominal", "legend": null}}},
{"data": {"name": "hklB"}, "mark": {"type": "text", "fontSize": 33, "align": "center", "baseline": "middle", "angle": -57, "color": "#222222"},
 "encoding": {"text": {"field": "t"}}},
{"data": {"name": "symB"}, "mark": {"type": "text", "fontSize": 33, "align": "center", "baseline": "middle", "color": "#222222"},
 "encoding": {"text": {"field": "t"}}},
{"data": {"name": "bigB"}, "mark": {"type": "text", "fontSize": 56, "align": "left", "baseline": "middle", "color": "#111111"},
 "encoding": {"text": {"field": "t"}}}
]
}
]
}
